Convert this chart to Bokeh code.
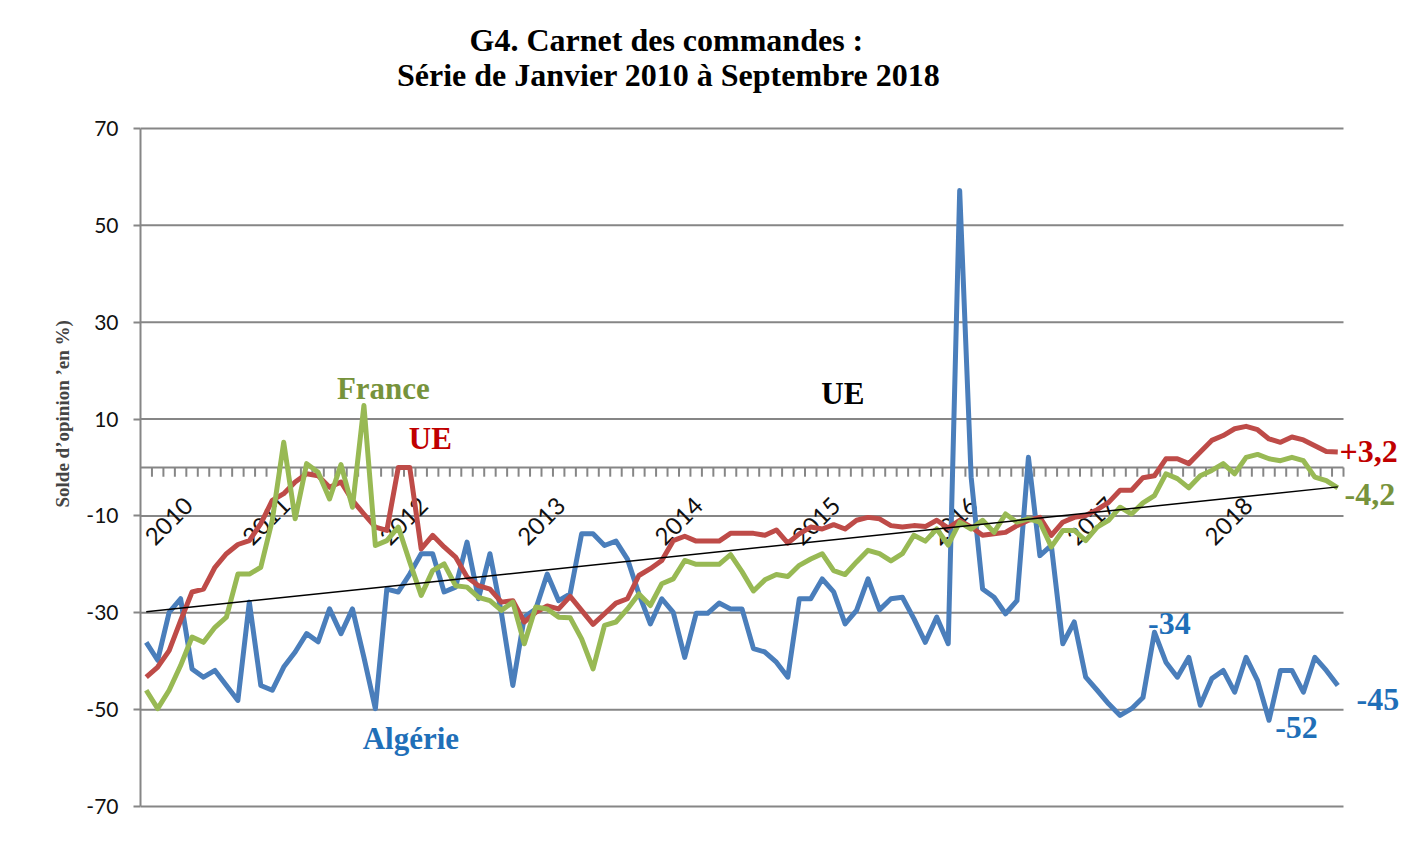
import math
from bokeh.plotting import figure
from bokeh.models import Range1d, FixedTicker, Label, Title
from bokeh.core.properties import value
from bokeh.embed import file_html
from bokeh.resources import INLINE

# ---------------- data (Jan 2010 .. Sep 2018, monthly) ----------------
years = ["2010", "2011", "2012", "2013", "2014", "2015", "2016", "2017", "2018"]

algerie = [
    -36.1, -39.8, -29.9, -27.1, -41.6, -43.3, -41.9, -45.0, -48.1, -27.8,
    -45.0, -46.0, -41.2, -38.1, -34.3, -36.0, -29.2, -34.3, -29.2, -39.2,
    -49.8, -25.1, -25.7, -22.0, -17.8, -17.8, -25.7, -24.7, -15.4, -27.1,
    -17.8, -30.0, -45.0, -30.9, -29.2, -22.0, -27.5, -26.1, -13.7, -13.7,
    -16.1, -15.2, -18.9, -26.1, -32.3, -27.1, -29.9, -39.2, -30.1, -30.1,
    -28.0, -29.2, -29.2, -37.4, -38.1, -40.2, -43.3, -27.1, -27.1, -23.0,
    -25.7, -32.3, -29.5, -23.0, -29.4, -27.1, -26.8, -31.2, -36.1, -30.9,
    -36.4, 57.2, -2.0, -25.1, -26.8, -30.2, -27.5, 2.1, -18.2, -16.1,
    -36.4, -31.9, -43.3, -46.0, -48.8, -51.2, -49.8, -47.5, -34.0, -40.2,
    -43.3, -39.2, -49.1, -43.6, -41.9, -46.4, -39.2, -44.0, -52.2, -41.9,
    -41.9, -46.4, -39.2, -41.9, -45.0,
]

ue = [
    -43.3, -41.2, -37.8, -31.6, -25.7, -25.1, -20.6, -17.8, -15.9, -15.1,
    -11.6, -6.8, -5.4, -3.0, -1.3, -1.7, -4.1, -3.0, -6.8, -9.6,
    -12.3, -13.0, 0.0, 0.0, -16.8, -14.0, -16.4, -18.5, -22.6, -24.4,
    -25.1, -27.8, -27.5, -31.9, -29.9, -28.6, -29.2, -26.6, -29.5, -32.4,
    -30.2, -28.0, -27.1, -22.3, -20.9, -19.2, -15.1, -14.2, -15.2, -15.2,
    -15.2, -13.6, -13.6, -13.6, -14.0, -12.9, -15.6, -13.7, -12.3, -12.7,
    -11.8, -12.7, -10.9, -10.3, -10.6, -12.0, -12.3, -12.0, -12.2, -10.9,
    -12.5, -10.9, -12.3, -14.0, -13.7, -13.4, -12.0, -10.9, -10.3, -14.0,
    -11.3, -10.3, -9.9, -8.7, -7.2, -4.7, -4.7, -2.1, -1.7, 1.8,
    1.8, 0.8, 3.2, 5.6, 6.6, 8.0, 8.5, 7.8, 5.9, 5.2,
    6.3, 5.7, 4.5, 3.3, 3.2,
]

france = [
    -46.0, -49.8, -46.0, -40.9, -35.0, -36.1, -33.0, -30.9, -22.0, -22.0,
    -20.6, -10.9, 5.2, -10.6, 0.8, -1.0, -6.5, 0.6, -8.2, 12.8,
    -16.1, -15.1, -12.3, -19.5, -26.4, -21.3, -19.9, -24.4, -24.7, -26.8,
    -27.5, -29.5, -27.8, -36.4, -28.8, -29.2, -30.9, -31.0, -35.4, -41.6,
    -32.6, -31.9, -29.2, -26.1, -28.5, -24.0, -23.0, -19.2, -20.0, -20.0,
    -20.0, -18.0, -21.5, -25.5, -23.2, -22.1, -22.5, -20.2, -18.9, -17.8,
    -21.3, -22.1, -19.5, -17.1, -17.8, -19.3, -17.8, -14.0, -15.2, -12.7,
    -16.0, -11.3, -12.7, -10.9, -13.4, -9.6, -11.3, -10.6, -11.3, -16.4,
    -13.0, -13.0, -15.1, -12.3, -10.9, -8.2, -9.6, -7.3, -5.8, -1.3,
    -2.3, -4.2, -1.7, -0.6, 0.8, -1.3, 2.1, 2.7, 1.8, 1.4,
    2.1, 1.4, -2.0, -2.7, -4.2,
]

# linear trend (UE), values at first and last month
trend_values = [-29.8, -4.0]

y_ticks = [-70, -50, -30, -10, 10, 30, 50, 70]

# ---------------- figure ----------------
n = len(ue)
x = list(range(n))

GRAY = "#868686"
BLUE, RED, GREEN = "#4A7EBB", "#BE4B48", "#98B954"
LBL_BLUE, LBL_RED, LBL_GREEN = "#1F6FB8", "#C00000", "#77933C"
SERIF = "Liberation Serif"
SANS = "Lato"

# geometry of the plotting area (pixels)
W, H = 1404, 868
LEFT = 140
data_w_px = 1203.0          # width covered by the n categories
data_h_px = 678.0           # height covered by -70..70
top_px, bottom_px = 128.0, 62.0   # room above 70 / below -70 inside the frame
px_x = data_w_px / n
px_y = data_h_px / (y_ticks[-1] - y_ticks[0])
x_end = -0.5 + (W - LEFT) / px_x
y_top = y_ticks[-1] + top_px / px_y
y_bot = y_ticks[0] - bottom_px / px_y

p = figure(width=W, height=H, output_backend="svg", toolbar_location=None,
           title=None,
           x_range=Range1d(-0.5, x_end), y_range=Range1d(y_bot, y_top),
           x_axis_location=None,
           min_border_left=LEFT, min_border_right=0,
           min_border_top=0, min_border_bottom=0)
p.outline_line_color = None
p.background_fill_color = "white"
p.border_fill_color = "white"

p.xgrid.visible = False
p.ygrid.visible = False
p.yaxis.ticker = FixedTicker(ticks=y_ticks)
p.yaxis.bounds = (y_ticks[0], y_ticks[-1])
p.yaxis.major_label_overrides = {t: str(t) for t in y_ticks}
p.yaxis.axis_line_color = GRAY
p.yaxis.axis_line_width = 2
p.yaxis.major_tick_line_color = GRAY
p.yaxis.major_tick_line_width = 2
p.yaxis.major_tick_out = 7
p.yaxis.major_tick_in = 0
p.yaxis.minor_tick_out = 0
p.yaxis.minor_tick_in = 0
p.yaxis.major_label_standoff = 15
p.yaxis.major_label_text_font = SANS
p.yaxis.major_label_text_font_size = "21px"
p.yaxis.major_label_text_color = "#111111"

# y-axis title on the left
p.add_layout(Title(text="Solde d\u2019opinion \u2019en %)", align="left", offset=361,
                   text_font=SERIF, text_font_style="bold", text_font_size="19px",
                   standoff=22), "left")

# horizontal grid lines over the category span
p.segment(x0=[-0.5] * len(y_ticks), y0=y_ticks, x1=[n - 0.5] * len(y_ticks), y1=y_ticks,
          line_color=GRAY, line_width=2)

# category axis drawn at y = 0
p.segment(x0=[-0.5], y0=[0], x1=[n - 0.5], y1=[0], line_color=GRAY, line_width=2)
bounds = [k - 0.5 for k in range(1, n + 1)]
p.segment(x0=bounds, y0=[0] * len(bounds), x1=bounds, y1=[-1.9] * len(bounds),
          line_color=GRAY, line_width=2)
year_x = [12 * k + 0.2 for k in range(len(years))]
year_x[0] = 3.7   # first label kept inside the plotting area
p.text(x=year_x, y=[-7.0] * len(years), text=years,
       angle=math.pi / 4, text_align="right", text_baseline="middle",
       text_font=value(SANS), text_font_size="24px", text_color="#111111")

# series
p.line(x, algerie, line_color=BLUE, line_width=5, line_join="round")
p.line(x, ue, line_color=RED, line_width=5, line_join="round")
p.line(x, france, line_color=GREEN, line_width=5, line_join="round")
p.line([0, n - 1], trend_values, line_color="black", line_width=1.5)


def lab(xx, yy, txt, color, size="31px"):
    p.add_layout(Label(x=xx, y=yy, text=txt, text_color=color, text_font=SERIF,
                       text_font_style="bold", text_font_size=size,
                       text_align="center", text_baseline="middle"))


lab(45.4, 88.2, "G4. Carnet des commandes :", "black", "32px")
lab(45.6, 81.0, "Série de Janvier 2010 à Septembre 2018", "black", "32px")

lab(20.7, 16.3, "France", LBL_GREEN)
lab(24.8, 6.0, "UE", LBL_RED)
lab(60.8, 15.3, "UE", "black")
lab(23.1, -56.0, "Algérie", LBL_BLUE)
lab(89.3, -32.2, "-34", LBL_BLUE, "32px")
lab(100.4, -53.7, "-52", LBL_BLUE, "32px")
lab(107.5, -47.9, "-45", LBL_BLUE, "32px")
lab(106.7, 3.3, "+3,2", LBL_RED, "32px")
lab(106.8, -5.6, "-4,2", LBL_GREEN, "32px")

open("out.html", "w").write(file_html(p, INLINE))
